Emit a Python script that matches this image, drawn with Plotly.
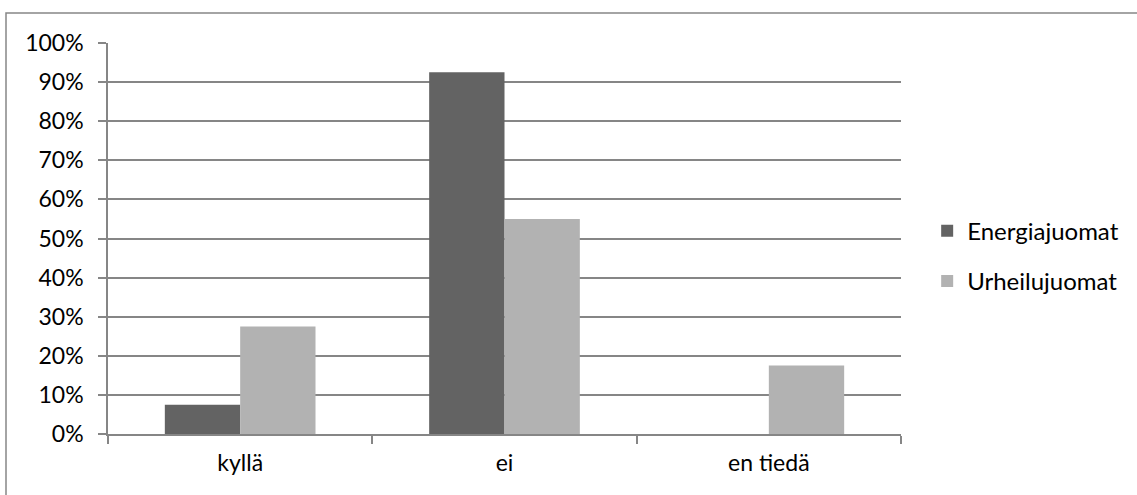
import plotly.graph_objects as go

# Survey answers and share of respondents per drink type
categories = ["kyllä", "ei", "en tiedä"]
energiajuomat = [0.075, 0.925, 0.0]
urheilujuomat = [0.275, 0.55, 0.175]
y_ticks = [0, 0.1, 0.2, 0.3, 0.4, 0.5, 0.6, 0.7, 0.8, 0.9, 1.0]

GRID = "#868686"
FAMILY = "Lato, 'Open Sans', sans-serif"
TICKFONT = dict(family=FAMILY, size=23, color="#000000")
LEGFONT = dict(family=FAMILY, size=24, color="#000000")

fig = go.Figure()
fig.add_trace(go.Bar(name="Energiajuomat", x=categories, y=energiajuomat,
                     legendgroup="e",
                     marker=dict(color="#636363", line=dict(width=0))))
fig.add_trace(go.Bar(name="Urheilujuomat", x=categories, y=urheilujuomat,
                     legendgroup="u",
                     marker=dict(color="#b2b2b2", line=dict(width=0))))

W, H = 1137, 495
ml, mr, mt, mb = 108, 236, 43, 61
pw, ph = W - ml - mr, H - mt - mb

fig.update_layout(
    width=W, height=H,
    margin=dict(l=ml, r=mr, t=mt, b=mb, pad=0),
    paper_bgcolor="white", plot_bgcolor="white",
    font=TICKFONT,
    barmode="group", bargap=0.43, bargroupgap=0,
    showlegend=True,
    legend=dict(x=1.033, y=0.455, xanchor="left", yanchor="middle",
                font=LEGFONT, itemsizing="constant", tracegroupgap=16,
                itemwidth=30, bgcolor="rgba(0,0,0,0)"),
    xaxis=dict(showline=True, linecolor=GRID, linewidth=1.5,
               ticks="outside", ticklen=8, tickcolor=GRID, tickwidth=1.5,
               tickson="boundaries", showgrid=False, tickfont=TICKFONT,
               ticklabelstandoff=8),
    yaxis=dict(range=[0, 1], tickvals=y_ticks, tickformat=".0%",
               showline=True, linecolor=GRID, linewidth=1.5,
               ticks="outside", ticklen=8, tickcolor=GRID, tickwidth=1.5,
               showgrid=True, gridcolor=GRID, gridwidth=1.5,
               zeroline=False, tickfont=TICKFONT, ticklabelstandoff=10),
    shapes=[dict(type="rect", xref="paper", yref="paper",
                 x0=(6 - ml) / pw, x1=(W + 4 - ml) / pw,
                 y0=-(H + 4 - (mt + ph)) / ph, y1=1 + (mt - 13) / ph,
                 line=dict(color=GRID, width=1.5), layer="below")],
)

fig.write_html("out.html")
